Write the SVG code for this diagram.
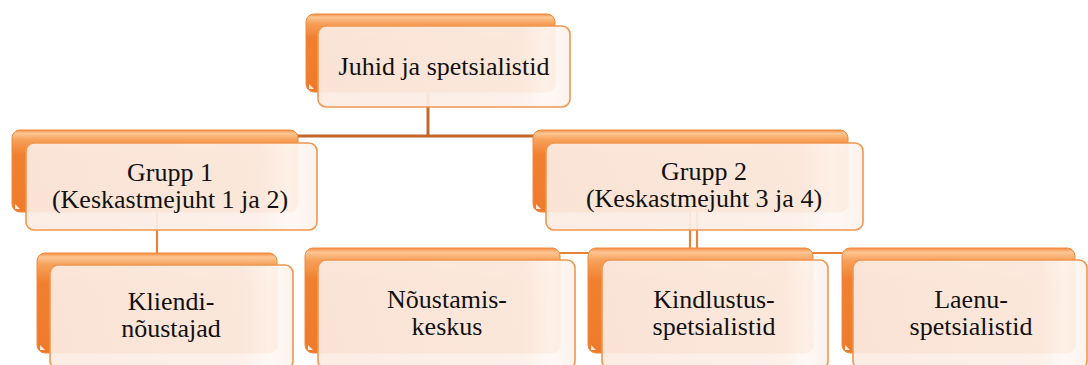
<svg xmlns="http://www.w3.org/2000/svg" width="1088" height="365" viewBox="0 0 1088 365">
<defs>
<linearGradient id="backG" x1="0" y1="0" x2="0" y2="1">
<stop offset="0" stop-color="#f58a3c"/>
<stop offset="0.04" stop-color="#fcc694"/>
<stop offset="0.12" stop-color="#f7a059"/>
<stop offset="0.3" stop-color="#f0802f"/>
<stop offset="1" stop-color="#ee7b2b"/>
</linearGradient>
<linearGradient id="frontG" x1="0" y1="0" x2="1" y2="0">
<stop offset="0" stop-color="#fbebe2"/>
<stop offset="0.8" stop-color="#fcefe8"/>
<stop offset="0.9" stop-color="#fef8f4"/>
<stop offset="1" stop-color="#fdf2ec"/>
</linearGradient>
</defs>
<style>
.back{fill:url(#backG);stroke:#f08a40;stroke-width:1}
.front{fill:url(#frontG);fill-opacity:0.93;stroke:#f0964f;stroke-width:1.6}
.hl{fill:#ffffff;opacity:0.85}
.t{font-family:'Liberation Serif','Times New Roman',Times,'DejaVu Serif','Noto Serif',serif;font-size:26px;fill:#111111;text-anchor:middle}
.c1{stroke:#c4662c;stroke-width:3;fill:none}
.c2{stroke:#e8823a;stroke-width:2.2;fill:none}
</style>
<g id="connectors">
<line class="c1" x1="428" y1="92" x2="428" y2="136"/>
<line class="c1" x1="170" y1="136" x2="700" y2="136"/>
<line class="c2" x1="157" y1="212" x2="157" y2="255"/>
<line class="c2" x1="690" y1="212" x2="690" y2="253"/>
<line class="c2" x1="697" y1="212" x2="697" y2="253"/>
<line class="c2" x1="440" y1="253" x2="965" y2="253"/>
</g>
<g id="node-top">
<rect class="back" x="306" y="14" width="249" height="78" rx="8"/>
<path class="hl" d="M309 89 L309 84 L314 89 Z"/>
<rect class="front" x="318" y="26" width="252" height="81" rx="8"/>
<text class="t" x="444" y="75" font-family="Liberation Serif, serif">Juhid ja spetsialistid</text>
</g>
<g id="node-grupp1">
<rect class="back" x="12" y="130" width="286" height="82" rx="8"/>
<path class="hl" d="M15 209 L15 204 L20 209 Z"/>
<rect class="front" x="26" y="143" width="291" height="87" rx="8"/>
<text class="t" x="170" y="181">Grupp 1</text>
<text class="t" x="170" y="208">(Keskastmejuht 1 ja 2)</text>
</g>
<g id="node-grupp2">
<rect class="back" x="533" y="130" width="315" height="82" rx="8"/>
<path class="hl" d="M536 209 L536 204 L541 209 Z"/>
<rect class="front" x="546" y="143" width="317" height="87" rx="8"/>
<text class="t" x="704" y="180">Grupp 2</text>
<text class="t" x="704" y="207">(Keskastmejuht 3 ja 4)</text>
</g>
<g id="node-kliendi">
<rect class="back" x="37" y="253" width="240" height="100" rx="8"/>
<path class="hl" d="M40 350 L40 345 L45 350 Z"/>
<rect class="front" x="50" y="265" width="243" height="104" rx="8"/>
<text class="t" x="171" y="310">Kliendi-</text>
<text class="t" x="171" y="337">nõustajad</text>
</g>
<g id="node-noustamis">
<rect class="back" x="305" y="248" width="255" height="105" rx="8"/>
<path class="hl" d="M308 350 L308 345 L313 350 Z"/>
<rect class="front" x="318" y="260" width="257" height="109" rx="8"/>
<text class="t" x="447" y="308">Nõustamis-</text>
<text class="t" x="447" y="335">keskus</text>
</g>
<g id="node-kindlustus">
<rect class="back" x="588" y="248" width="225" height="105" rx="8"/>
<path class="hl" d="M591 350 L591 345 L596 350 Z"/>
<rect class="front" x="602" y="260" width="226" height="109" rx="8"/>
<text class="t" x="714" y="308">Kindlustus-</text>
<text class="t" x="714" y="335">spetsialistid</text>
</g>
<g id="node-laenu">
<rect class="back" x="842" y="248" width="233" height="105" rx="8"/>
<path class="hl" d="M845 350 L845 345 L850 350 Z"/>
<rect class="front" x="853" y="260" width="234" height="109" rx="8"/>
<text class="t" x="971" y="308">Laenu-</text>
<text class="t" x="971" y="335">spetsialistid</text>
</g>
</svg>
